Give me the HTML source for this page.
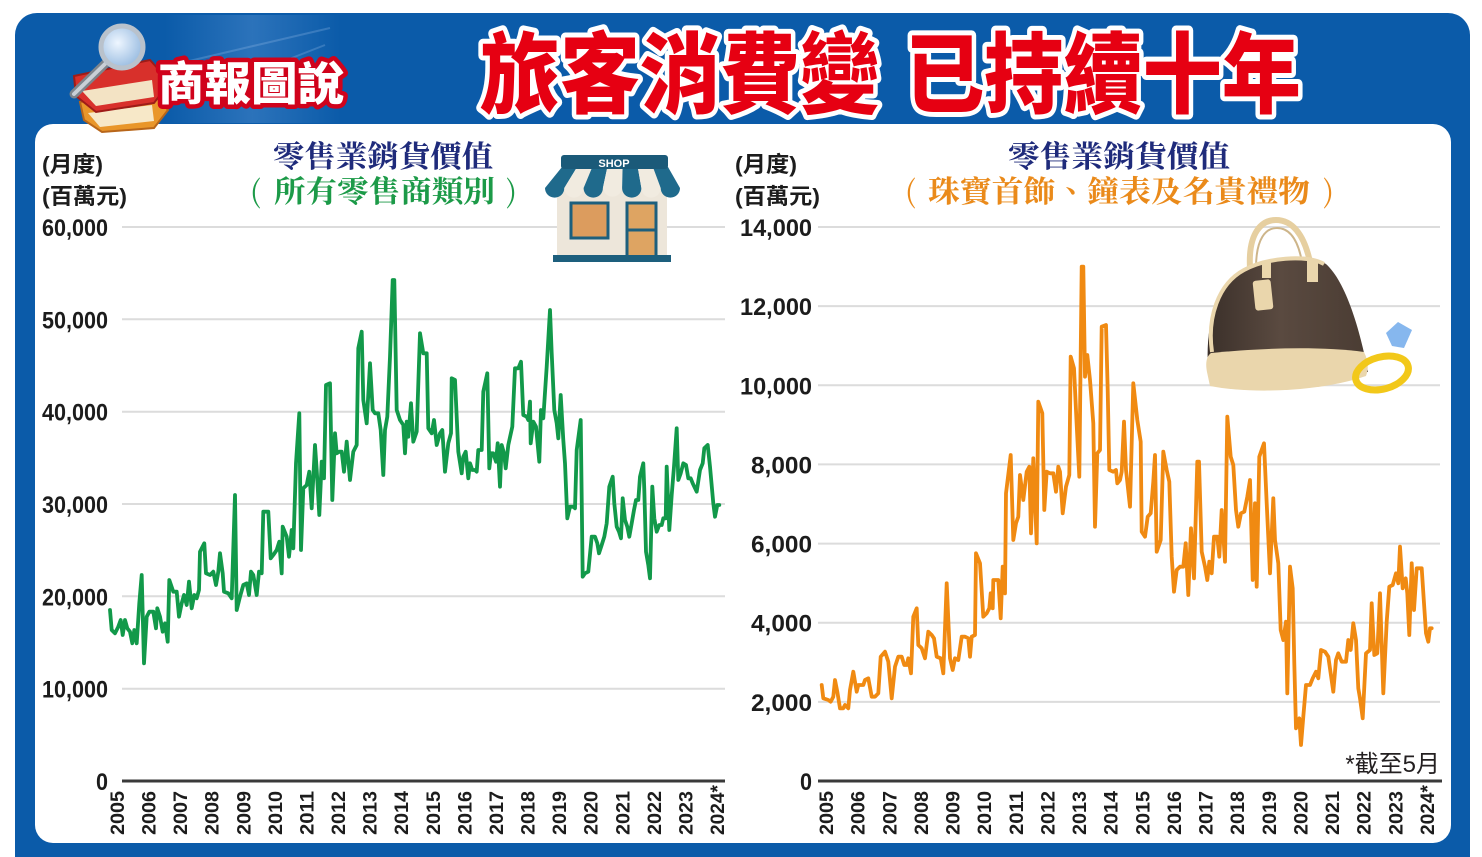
<!DOCTYPE html>
<html>
<head>
<meta charset="utf-8">
<style>
html,body{margin:0;padding:0;background:#fff;}
svg{display:block;}
.ylab{font-family:"Liberation Sans","Noto Sans CJK TC",sans-serif;font-weight:bold;font-size:24px;fill:#1c1c1c;}
.unit{font-family:"Liberation Sans","Noto Sans CJK TC",sans-serif;font-weight:bold;font-size:22px;fill:#1c1c1c;}
.xlab{font-family:"Liberation Sans",sans-serif;font-weight:bold;font-size:19.5px;fill:#1c1c1c;}
.ttl{font-family:"Noto Serif CJK TC","Noto Serif CJK SC",serif;font-weight:bold;font-size:30px;}
</style>
</head>
<body>
<svg width="1482" height="857" viewBox="0 0 1482 857" xmlns="http://www.w3.org/2000/svg">
  <defs>
    <linearGradient id="deco" x1="0" y1="0" x2="1" y2="0">
      <stop offset="0" stop-color="#7fb0e8" stop-opacity="0"/>
      <stop offset="0.5" stop-color="#7fb0e8" stop-opacity="0.28"/>
      <stop offset="1" stop-color="#7fb0e8" stop-opacity="0"/>
    </linearGradient>
    <radialGradient id="lens" cx="0.4" cy="0.4" r="0.7">
      <stop offset="0" stop-color="#eef6ff"/>
      <stop offset="1" stop-color="#8fb5dd"/>
    </radialGradient>
    <linearGradient id="bagg" x1="0" y1="0" x2="1" y2="0">
      <stop offset="0" stop-color="#3b302a"/>
      <stop offset="0.45" stop-color="#5a4a40"/>
      <stop offset="1" stop-color="#4a3c33"/>
    </linearGradient>
  </defs>

  <!-- blue frame -->
  <rect x="15" y="13" width="1455" height="880" rx="22" fill="#0b5ba9"/>
  <!-- decorative header graphic -->
  <rect x="165" y="15" width="175" height="108" fill="url(#deco)"/>
  <path d="M185 62 L330 28 M205 92 L325 45" stroke="#a9c8ee" stroke-opacity="0.25" stroke-width="2"/>

  <!-- white panel -->
  <rect x="35" y="124" width="1416" height="719" rx="18" fill="#ffffff"/>

  <!-- Logo: books + magnifier -->
  <g>
    <polygon points="80,102 152,92 168,110 154,128 102,132 84,120" fill="#e9962a" stroke="#b8661a" stroke-width="2"/>
    <polygon points="88,113 152,105 154,121 100,127" fill="#f7e8c8"/>
    <polygon points="74,76 150,60 170,82 154,103 96,112 76,96" fill="#d8302b" stroke="#9e1c18" stroke-width="2"/>
    <polygon points="82,91 152,80 154,97 96,106" fill="#f3e3c4"/>
    <line x1="106" y1="63" x2="74" y2="94" stroke="#7d848c" stroke-width="9" stroke-linecap="round"/>
    <line x1="106" y1="63" x2="74" y2="94" stroke="#c9cfd6" stroke-width="4" stroke-linecap="round"/>
    <circle cx="122" cy="47" r="21" fill="url(#lens)" stroke="#b9c2cc" stroke-width="5"/>
  </g>
  <text x="158" y="100" textLength="186" lengthAdjust="spacingAndGlyphs"
        font-family="'Noto Sans CJK TC','Noto Sans CJK SC',sans-serif" font-weight="900" font-size="46"
        fill="#ffffff" stroke="#d0021b" stroke-width="9" stroke-linejoin="round" paint-order="stroke">商報圖說</text>

  <!-- Main title -->
  <g font-family="'Noto Sans CJK TC','Noto Sans CJK SC',sans-serif" font-weight="900" font-size="80"
     fill="#e60012" stroke="#ffffff" stroke-width="9" stroke-linejoin="round" paint-order="stroke">
    <g transform="translate(0,106) scale(1,1.1)">
      <text x="480" y="0" textLength="400" lengthAdjust="spacingAndGlyphs">旅客消費變</text>
      <text x="905" y="0" textLength="396" lengthAdjust="spacingAndGlyphs">已持續十年</text>
    </g>
  </g>

  <!-- ================= LEFT CHART ================= -->
  <text class="unit" x="42" y="172" textLength="61" lengthAdjust="spacingAndGlyphs">(月度)</text>
  <text class="unit" x="42" y="204" textLength="85" lengthAdjust="spacingAndGlyphs">(百萬元)</text>
  <text class="ttl" x="273" y="167" fill="#1f2b7b" textLength="220" lengthAdjust="spacingAndGlyphs">零售業銷貨價值</text>
  <g class="ttl" fill="#1c9a48">
    <text x="250" y="202" font-weight="normal">(</text>
    <text x="274" y="202" textLength="221" lengthAdjust="spacingAndGlyphs">所有零售商類別</text>
    <text x="506" y="202" font-weight="normal">)</text>
  </g>

  <g stroke="#dcdcdc" stroke-width="2">
    <line x1="122" y1="227" x2="725" y2="227"/>
    <line x1="122" y1="319.3" x2="725" y2="319.3"/>
    <line x1="122" y1="411.7" x2="725" y2="411.7"/>
    <line x1="122" y1="504" x2="725" y2="504"/>
    <line x1="122" y1="596.3" x2="725" y2="596.3"/>
    <line x1="122" y1="688.7" x2="725" y2="688.7"/>
  </g>
  <line x1="122" y1="781" x2="725" y2="781" stroke="#3a3a3a" stroke-width="3"/>

  <g class="ylab" text-anchor="end">
    <text x="108" y="236" textLength="66" lengthAdjust="spacingAndGlyphs">60,000</text>
    <text x="108" y="328.3" textLength="66" lengthAdjust="spacingAndGlyphs">50,000</text>
    <text x="108" y="420.7" textLength="66" lengthAdjust="spacingAndGlyphs">40,000</text>
    <text x="108" y="513" textLength="66" lengthAdjust="spacingAndGlyphs">30,000</text>
    <text x="108" y="605.3" textLength="66" lengthAdjust="spacingAndGlyphs">20,000</text>
    <text x="108" y="697.7" textLength="66" lengthAdjust="spacingAndGlyphs">10,000</text>
    <text x="108" y="790" textLength="12" lengthAdjust="spacingAndGlyphs">0</text>
  </g>

  <g class="xlab">
    <text transform="translate(124,835) rotate(-90)" textLength="44" lengthAdjust="spacingAndGlyphs">2005</text>
    <text transform="translate(155.6,835) rotate(-90)" textLength="44" lengthAdjust="spacingAndGlyphs">2006</text>
    <text transform="translate(187.2,835) rotate(-90)" textLength="44" lengthAdjust="spacingAndGlyphs">2007</text>
    <text transform="translate(218.7,835) rotate(-90)" textLength="44" lengthAdjust="spacingAndGlyphs">2008</text>
    <text transform="translate(250.3,835) rotate(-90)" textLength="44" lengthAdjust="spacingAndGlyphs">2009</text>
    <text transform="translate(281.9,835) rotate(-90)" textLength="44" lengthAdjust="spacingAndGlyphs">2010</text>
    <text transform="translate(313.5,835) rotate(-90)" textLength="44" lengthAdjust="spacingAndGlyphs">2011</text>
    <text transform="translate(345.1,835) rotate(-90)" textLength="44" lengthAdjust="spacingAndGlyphs">2012</text>
    <text transform="translate(376.6,835) rotate(-90)" textLength="44" lengthAdjust="spacingAndGlyphs">2013</text>
    <text transform="translate(408.2,835) rotate(-90)" textLength="44" lengthAdjust="spacingAndGlyphs">2014</text>
    <text transform="translate(439.8,835) rotate(-90)" textLength="44" lengthAdjust="spacingAndGlyphs">2015</text>
    <text transform="translate(471.4,835) rotate(-90)" textLength="44" lengthAdjust="spacingAndGlyphs">2016</text>
    <text transform="translate(503,835) rotate(-90)" textLength="44" lengthAdjust="spacingAndGlyphs">2017</text>
    <text transform="translate(534.5,835) rotate(-90)" textLength="44" lengthAdjust="spacingAndGlyphs">2018</text>
    <text transform="translate(566.1,835) rotate(-90)" textLength="44" lengthAdjust="spacingAndGlyphs">2019</text>
    <text transform="translate(597.7,835) rotate(-90)" textLength="44" lengthAdjust="spacingAndGlyphs">2020</text>
    <text transform="translate(629.3,835) rotate(-90)" textLength="44" lengthAdjust="spacingAndGlyphs">2021</text>
    <text transform="translate(660.9,835) rotate(-90)" textLength="44" lengthAdjust="spacingAndGlyphs">2022</text>
    <text transform="translate(692.4,835) rotate(-90)" textLength="44" lengthAdjust="spacingAndGlyphs">2023</text>
    <text transform="translate(724,835) rotate(-90)" textLength="50" lengthAdjust="spacingAndGlyphs">2024*</text>
  </g>

  <!-- Shop icon -->
  <g>
    <rect x="557" y="186" width="110" height="72" fill="#ede6da"/>
    <rect x="571" y="203" width="37" height="35" fill="#dc9c5e" stroke="#1d5f7d" stroke-width="3"/>
    <rect x="627" y="203" width="29" height="55" fill="#dea462" stroke="#1d5f7d" stroke-width="3"/>
    <line x1="627" y1="230" x2="656" y2="230" stroke="#1d5f7d" stroke-width="3"/>
    <rect x="553" y="255" width="118" height="7" fill="#1d5f7d"/>
    <!-- awning stripes: 7 stripes, top 562-668, bottom 545-680 -->
    <g>
      <path d="M562 167 L577.1 167 L564.3 188 A9.65 9.65 0 0 1 545 188 Z" fill="#1f6a8c"/>
      <path d="M577.1 167 L592.3 167 L583.6 188 A9.65 9.65 0 0 1 564.3 188 Z" fill="#f1ebe0"/>
      <path d="M592.3 167 L607.4 167 L602.9 188 A9.65 9.65 0 0 1 583.6 188 Z" fill="#1f6a8c"/>
      <path d="M607.4 167 L622.6 167 L622.1 188 A9.65 9.65 0 0 1 602.9 188 Z" fill="#f1ebe0"/>
      <path d="M622.6 167 L637.7 167 L641.4 188 A9.65 9.65 0 0 1 622.1 188 Z" fill="#1f6a8c"/>
      <path d="M637.7 167 L652.9 167 L660.7 188 A9.65 9.65 0 0 1 641.4 188 Z" fill="#f1ebe0"/>
      <path d="M652.9 167 L668 167 L680 188 A9.65 9.65 0 0 1 660.7 188 Z" fill="#1f6a8c"/>
    </g>
    <rect x="561" y="155" width="107" height="14" rx="3" fill="#1b5a79"/>
    <text x="614" y="167" text-anchor="middle" font-family="'Liberation Sans',sans-serif" font-weight="bold" font-size="11" fill="#ffffff">SHOP</text>
  </g>

  <!-- Green series -->
  <polyline fill="none" stroke="#12994a" stroke-width="3.8" stroke-linejoin="round" stroke-linecap="round" points="
110,610 111.7,630 115,633.3 118.3,626.7 120.7,620 122.7,635 125,620 127.3,628.3 130,631.7 132.3,643.3 134.3,630 136.7,643.3 139.3,603.3 141.7,575 144,663.3 146.7,616.7 149.3,611.7 153.3,611.7 156,628.3 157.3,608.3 160,616.7 162.7,631.7 165,623.3 167.7,641.7 169.3,580 173.3,591.7 176.7,591.7 179,616.7 181.7,603.3 184,595 186.7,605 189,581.7 191.7,608.3 194.3,595 196.7,598.3 199,590 200,551.7 204.3,543.3 206,573.3 210,575 213.3,571.7 216,585 218.3,571.7 220,553.3 222.7,573.3 224,591.7 228.3,593.3 231.7,598.3 235,495 236.7,610 240,596.7 243.3,585 246.7,583.3 249,595 251,571.7 253.3,575 256.7,595 259,571.7 261.7,573.3 263.3,511.7 268.3,511.7 270.7,558.3 273.3,555 276.7,550 279.3,541.7 281.7,573.3 282.7,526.7 286.7,536.7 289,556.7 291.7,530 293.3,548.3 294.3,516.7 296,463.3 299.3,413.3 301,550 303.3,488.3 306.7,485 309.3,471.7 311.7,508.3 315,445 316.7,470 319.3,515 321.7,461.7 324,478.3 326,385 330,383.3 332.3,500 335,433.3 336.7,453.3 339.3,451.7 341.7,451.7 344,471.7 346.7,441.7 350,480 353.3,451.7 356.7,445 358.3,348.3 361.7,331.7 363.3,400 366.7,423.3 370,363.3 372.7,410 375,413.3 378.3,413.3 380.7,430 383.3,475 385,430 387.3,416.7 390,356.7 392.7,280 394.3,280 396.7,410 400,420 403.3,425 405,453.3 406.7,421.7 408.3,436.7 411,403.3 413.3,441.7 416.7,431.7 420,333.3 423.3,353.3 426.7,353.3 428.3,428.3 431.7,433.3 434,420 436.7,445 440,433.3 442.3,430 445,471.7 448.3,443.3 451,433.3 451.7,378.3 455,380 458.3,451.7 461.7,473.3 463.3,456.7 465.7,451.7 468.3,478.3 470,463.3 472.3,470 475,470 476.7,471.7 478.3,450 481.7,450 483.3,391.7 487.3,373.3 489.3,468.3 491,453.3 493.3,453.3 496,461.7 497.7,443.3 500,486.7 501.7,445 504,453.3 505.7,468.3 508.3,445 512.3,426.7 515,368.3 518.3,368.3 521,361.7 523.3,415 526.7,416.7 528.3,420 530,401.7 530.7,443.3 533.3,421.7 536,426.7 539.3,461.7 541,410 543.3,418.3 546.7,366.7 550,310 551.7,353.3 554.3,410 556.7,423.3 558.3,438.3 560.7,395 563.3,440 565,463.3 567.3,518.3 570,506.7 573.3,506.7 575,508.3 576.7,450 580.7,420 582.7,576.7 585,573.3 588.3,571.7 591.7,536.7 595,536.7 597.3,543.3 599,553.3 601.7,545 604.3,536.7 606.7,523.3 609.3,486.7 612.7,476.7 614.3,503.3 616.7,526.7 619,531.7 621,538.3 622.7,498.3 625,520 627.3,526.7 629.3,536.7 631.7,523.3 634,510 636,500 638.3,500 640,476.7 643.3,463.3 644.3,490 646,551.7 648.3,565 650,578.3 652.3,486.7 654.3,518.3 656.7,531.7 659.3,525 661.7,525 663.3,518.3 665.7,518.3 666.7,466.7 669.3,530 671.7,495 674,466.7 676.7,428.3 678.3,480 680.7,473.3 683.3,463.3 686,465 688.3,478.3 690.7,478.3 692.7,483.3 696.7,491.7 700,470 702.7,463.3 704.3,448.3 707.7,445 710,466.7 713.3,503.3 715,516.7 717.3,505 719.3,505"/>

  <!-- ================= RIGHT CHART ================= -->
  <text class="unit" x="735" y="172" textLength="62" lengthAdjust="spacingAndGlyphs">(月度)</text>
  <text class="unit" x="735" y="204" textLength="85" lengthAdjust="spacingAndGlyphs">(百萬元)</text>
  <text class="ttl" x="1008" y="167" fill="#1f2b7b" textLength="222" lengthAdjust="spacingAndGlyphs">零售業銷貨價值</text>
  <g class="ttl" fill="#ea8a1a">
    <text x="905" y="202" font-weight="normal">(</text>
    <text x="928" y="202" textLength="382" lengthAdjust="spacingAndGlyphs">珠寶首飾、鐘表及名貴禮物</text>
    <text x="1323" y="202" font-weight="normal">)</text>
  </g>

  <g stroke="#dcdcdc" stroke-width="2">
    <line x1="818" y1="227" x2="1440" y2="227"/>
    <line x1="818" y1="306.1" x2="1440" y2="306.1"/>
    <line x1="818" y1="385.3" x2="1440" y2="385.3"/>
    <line x1="818" y1="464.4" x2="1440" y2="464.4"/>
    <line x1="818" y1="543.6" x2="1440" y2="543.6"/>
    <line x1="818" y1="622.7" x2="1440" y2="622.7"/>
    <line x1="818" y1="701.9" x2="1440" y2="701.9"/>
  </g>
  <line x1="818" y1="781" x2="1442" y2="781" stroke="#3a3a3a" stroke-width="3"/>

  <g class="ylab" text-anchor="end">
    <text x="812" y="236" textLength="72" lengthAdjust="spacingAndGlyphs">14,000</text>
    <text x="812" y="315.1" textLength="72" lengthAdjust="spacingAndGlyphs">12,000</text>
    <text x="812" y="394.3" textLength="72" lengthAdjust="spacingAndGlyphs">10,000</text>
    <text x="812" y="473.4" textLength="61" lengthAdjust="spacingAndGlyphs">8,000</text>
    <text x="812" y="552.6" textLength="61" lengthAdjust="spacingAndGlyphs">6,000</text>
    <text x="812" y="631.7" textLength="61" lengthAdjust="spacingAndGlyphs">4,000</text>
    <text x="812" y="710.9" textLength="61" lengthAdjust="spacingAndGlyphs">2,000</text>
    <text x="812" y="790" textLength="12" lengthAdjust="spacingAndGlyphs">0</text>
  </g>

  <g class="xlab">
    <text transform="translate(833,835) rotate(-90)" textLength="44" lengthAdjust="spacingAndGlyphs">2005</text>
    <text transform="translate(864.6,835) rotate(-90)" textLength="44" lengthAdjust="spacingAndGlyphs">2006</text>
    <text transform="translate(896.3,835) rotate(-90)" textLength="44" lengthAdjust="spacingAndGlyphs">2007</text>
    <text transform="translate(927.9,835) rotate(-90)" textLength="44" lengthAdjust="spacingAndGlyphs">2008</text>
    <text transform="translate(959.5,835) rotate(-90)" textLength="44" lengthAdjust="spacingAndGlyphs">2009</text>
    <text transform="translate(991.2,835) rotate(-90)" textLength="44" lengthAdjust="spacingAndGlyphs">2010</text>
    <text transform="translate(1022.8,835) rotate(-90)" textLength="44" lengthAdjust="spacingAndGlyphs">2011</text>
    <text transform="translate(1054.4,835) rotate(-90)" textLength="44" lengthAdjust="spacingAndGlyphs">2012</text>
    <text transform="translate(1086,835) rotate(-90)" textLength="44" lengthAdjust="spacingAndGlyphs">2013</text>
    <text transform="translate(1117.7,835) rotate(-90)" textLength="44" lengthAdjust="spacingAndGlyphs">2014</text>
    <text transform="translate(1149.3,835) rotate(-90)" textLength="44" lengthAdjust="spacingAndGlyphs">2015</text>
    <text transform="translate(1180.9,835) rotate(-90)" textLength="44" lengthAdjust="spacingAndGlyphs">2016</text>
    <text transform="translate(1212.6,835) rotate(-90)" textLength="44" lengthAdjust="spacingAndGlyphs">2017</text>
    <text transform="translate(1244.2,835) rotate(-90)" textLength="44" lengthAdjust="spacingAndGlyphs">2018</text>
    <text transform="translate(1275.8,835) rotate(-90)" textLength="44" lengthAdjust="spacingAndGlyphs">2019</text>
    <text transform="translate(1307.5,835) rotate(-90)" textLength="44" lengthAdjust="spacingAndGlyphs">2020</text>
    <text transform="translate(1339.1,835) rotate(-90)" textLength="44" lengthAdjust="spacingAndGlyphs">2021</text>
    <text transform="translate(1370.7,835) rotate(-90)" textLength="44" lengthAdjust="spacingAndGlyphs">2022</text>
    <text transform="translate(1402.4,835) rotate(-90)" textLength="44" lengthAdjust="spacingAndGlyphs">2023</text>
    <text transform="translate(1434,835) rotate(-90)" textLength="50" lengthAdjust="spacingAndGlyphs">2024*</text>
  </g>

  <text x="1440" y="772" text-anchor="end" font-family="'Liberation Sans','Noto Sans CJK TC',sans-serif" font-size="24" fill="#231f20">*截至5月</text>

  <!-- Bag + ring -->
  <g>
    <!-- handles -->
    <path d="M1250 268 C1248 232, 1262 220, 1276 220 C1292 220, 1304 234, 1310 262" fill="none" stroke="#e6cfa0" stroke-width="6"/>
    <path d="M1256 268 C1256 238, 1266 228, 1277 228 C1290 228, 1298 240, 1302 262" fill="none" stroke="#cdb58a" stroke-width="2"/>
    <!-- body -->
    <path d="M1209 378 C1204 335, 1212 292, 1240 272 C1262 258, 1306 252, 1326 264 C1346 282, 1360 330, 1368 372 Z" fill="url(#bagg)"/>
    <path d="M1212 352 C1207 318, 1218 284, 1244 270 C1266 258, 1306 254, 1324 264" fill="none" stroke="#ead6ac" stroke-width="4"/>
    <!-- base band -->
    <path d="M1207 372 C1205 362, 1207 356, 1211 353 C1260 348, 1320 346, 1364 352 C1368 360, 1369 368, 1366 376 C1320 392, 1250 394, 1210 386 Z" fill="#ead6ac"/>
    <!-- tabs and tag -->
    <rect x="1262" y="262" width="9" height="16" fill="#ead6ac"/>
    <rect x="1307" y="260" width="11" height="22" fill="#ead6ac"/>
    <rect x="1254" y="280" width="18" height="30" rx="3" fill="#ead6ac" transform="rotate(-6 1263 295)"/>
    <!-- ring -->
    <ellipse cx="1382" cy="373" rx="27" ry="16" fill="none" stroke="#f2c81a" stroke-width="7" transform="rotate(-15 1382 373)"/>
    <polygon points="1386,333 1398,322 1412,330 1404,348 1392,346" fill="#86b7ee"/>
  </g>

  <!-- Orange series -->
  <polyline fill="none" stroke="#f08a12" stroke-width="3.8" stroke-linejoin="round" stroke-linecap="round" points="
821.7,685 823.3,698.3 828.3,700 830.7,701.7 833.3,696.7 835,680 837.3,691.7 840,708.3 843.3,708.3 845,705 848.3,708.3 850,690 853.3,671.7 856.7,691.7 858.3,685 863.3,685 865,680 868.3,678.3 871.7,696.7 875,696.7 878.3,693.3 880.7,656.7 885,651.7 888.3,661.7 891.7,698.3 895,666.7 898.3,656.7 901.7,656.7 904.3,665 906.7,665 908.3,658.3 911,673.3 913.3,616.7 916.7,608.3 918.3,645 921.7,648.3 925,658.3 928.3,631.7 931.7,635 934,638.3 936.7,656.7 940.7,658.3 943.3,673.3 946.7,583.3 950,658.3 952.7,670 955,658.3 958.3,660 961.7,636.7 965,636.7 968.3,638.3 970,656.7 971.7,636.7 975,635 976,553.3 980,563.3 983.3,616.7 986.7,613.3 989.3,608.3 990.7,593.3 992.7,608.3 993.3,580 998.3,580 1000.7,618.3 1002.7,566.7 1005,593.3 1006,493.3 1010.7,455 1013.3,540 1016,523.3 1018.3,516.7 1020,475 1023.3,500 1026.7,471.7 1029.3,466.7 1031,533.3 1033.3,458.3 1036.7,543.3 1038.3,401.7 1042.3,413.3 1044.3,510 1046.7,471.7 1050,473.3 1053.3,473.3 1056,491.7 1058.3,466.7 1060,471.7 1062.7,513.3 1066,486.7 1069.3,475 1070.7,356.7 1074,368.3 1076.7,425 1079.3,476.7 1081.7,266.7 1083.3,266.7 1085,376.7 1087.3,355 1090,380 1093.3,423.3 1095,526.7 1097.3,453.3 1100,450 1101.7,326.7 1106,325 1107.7,390 1109.3,470 1113.3,471.7 1116,470 1117.3,483.3 1120,480 1121.7,471.7 1124,421.7 1126,470 1130,506.7 1133.3,383.3 1137.3,420 1140.7,441.7 1141.7,531.7 1145,536.7 1147.7,516.7 1150.7,513.3 1153.3,481.7 1155,455 1156.7,551.7 1160.7,540 1163.3,451.7 1166.7,470 1169.3,481.7 1171.7,556.7 1174,591.7 1176.7,570 1180,566.7 1183.3,566.7 1185.7,543.3 1188.3,595 1191,528.3 1194,578.3 1197.3,461.7 1199,461.7 1201.7,551.7 1205,566.7 1207.3,580 1209.3,561.7 1211.7,573.3 1214,536.7 1217.3,536.7 1219.3,556.7 1221.7,510 1225,561.7 1227.3,416.7 1230.7,456.7 1233.3,465 1236,510 1238.3,526.7 1241,513.3 1244.3,511.7 1247.3,496.7 1250,480 1252.7,580 1255,503.3 1256.7,586.7 1259.3,456.7 1264,443.3 1266.7,503.3 1270,573.3 1273.3,498.3 1275,540 1278.3,563.3 1280.7,630 1283.3,640 1286,621.7 1287.3,693.3 1290,566.7 1292.7,588.3 1294.3,663.3 1296,728.3 1299.3,718.3 1301,745 1303.3,716.7 1306,685 1310,685 1312.7,678.3 1316,671.7 1318.3,678.3 1321,650 1325,651.7 1328.3,656.7 1333.3,691.7 1336,660 1338.3,653.3 1341.7,661.7 1346,661.7 1348.3,640 1350.7,650 1353.3,623.3 1356,640 1358.3,688.3 1360,698.3 1362.7,718.3 1366,653.3 1370,650 1371.7,603.3 1374.3,655 1377.3,653.3 1380,593.3 1383.3,693.3 1386.7,621.7 1389.3,586.7 1392.7,585 1396,573.3 1398.3,583.3 1400,546.7 1402.7,588.3 1405.7,578.3 1407.3,593.3 1409.3,635 1411.7,563.3 1414,610 1416.7,568.3 1421.7,568.3 1424,603.3 1426,633.3 1428.3,641.7 1430,628.3 1431.7,628.3"/>
</svg>
</body>
</html>
